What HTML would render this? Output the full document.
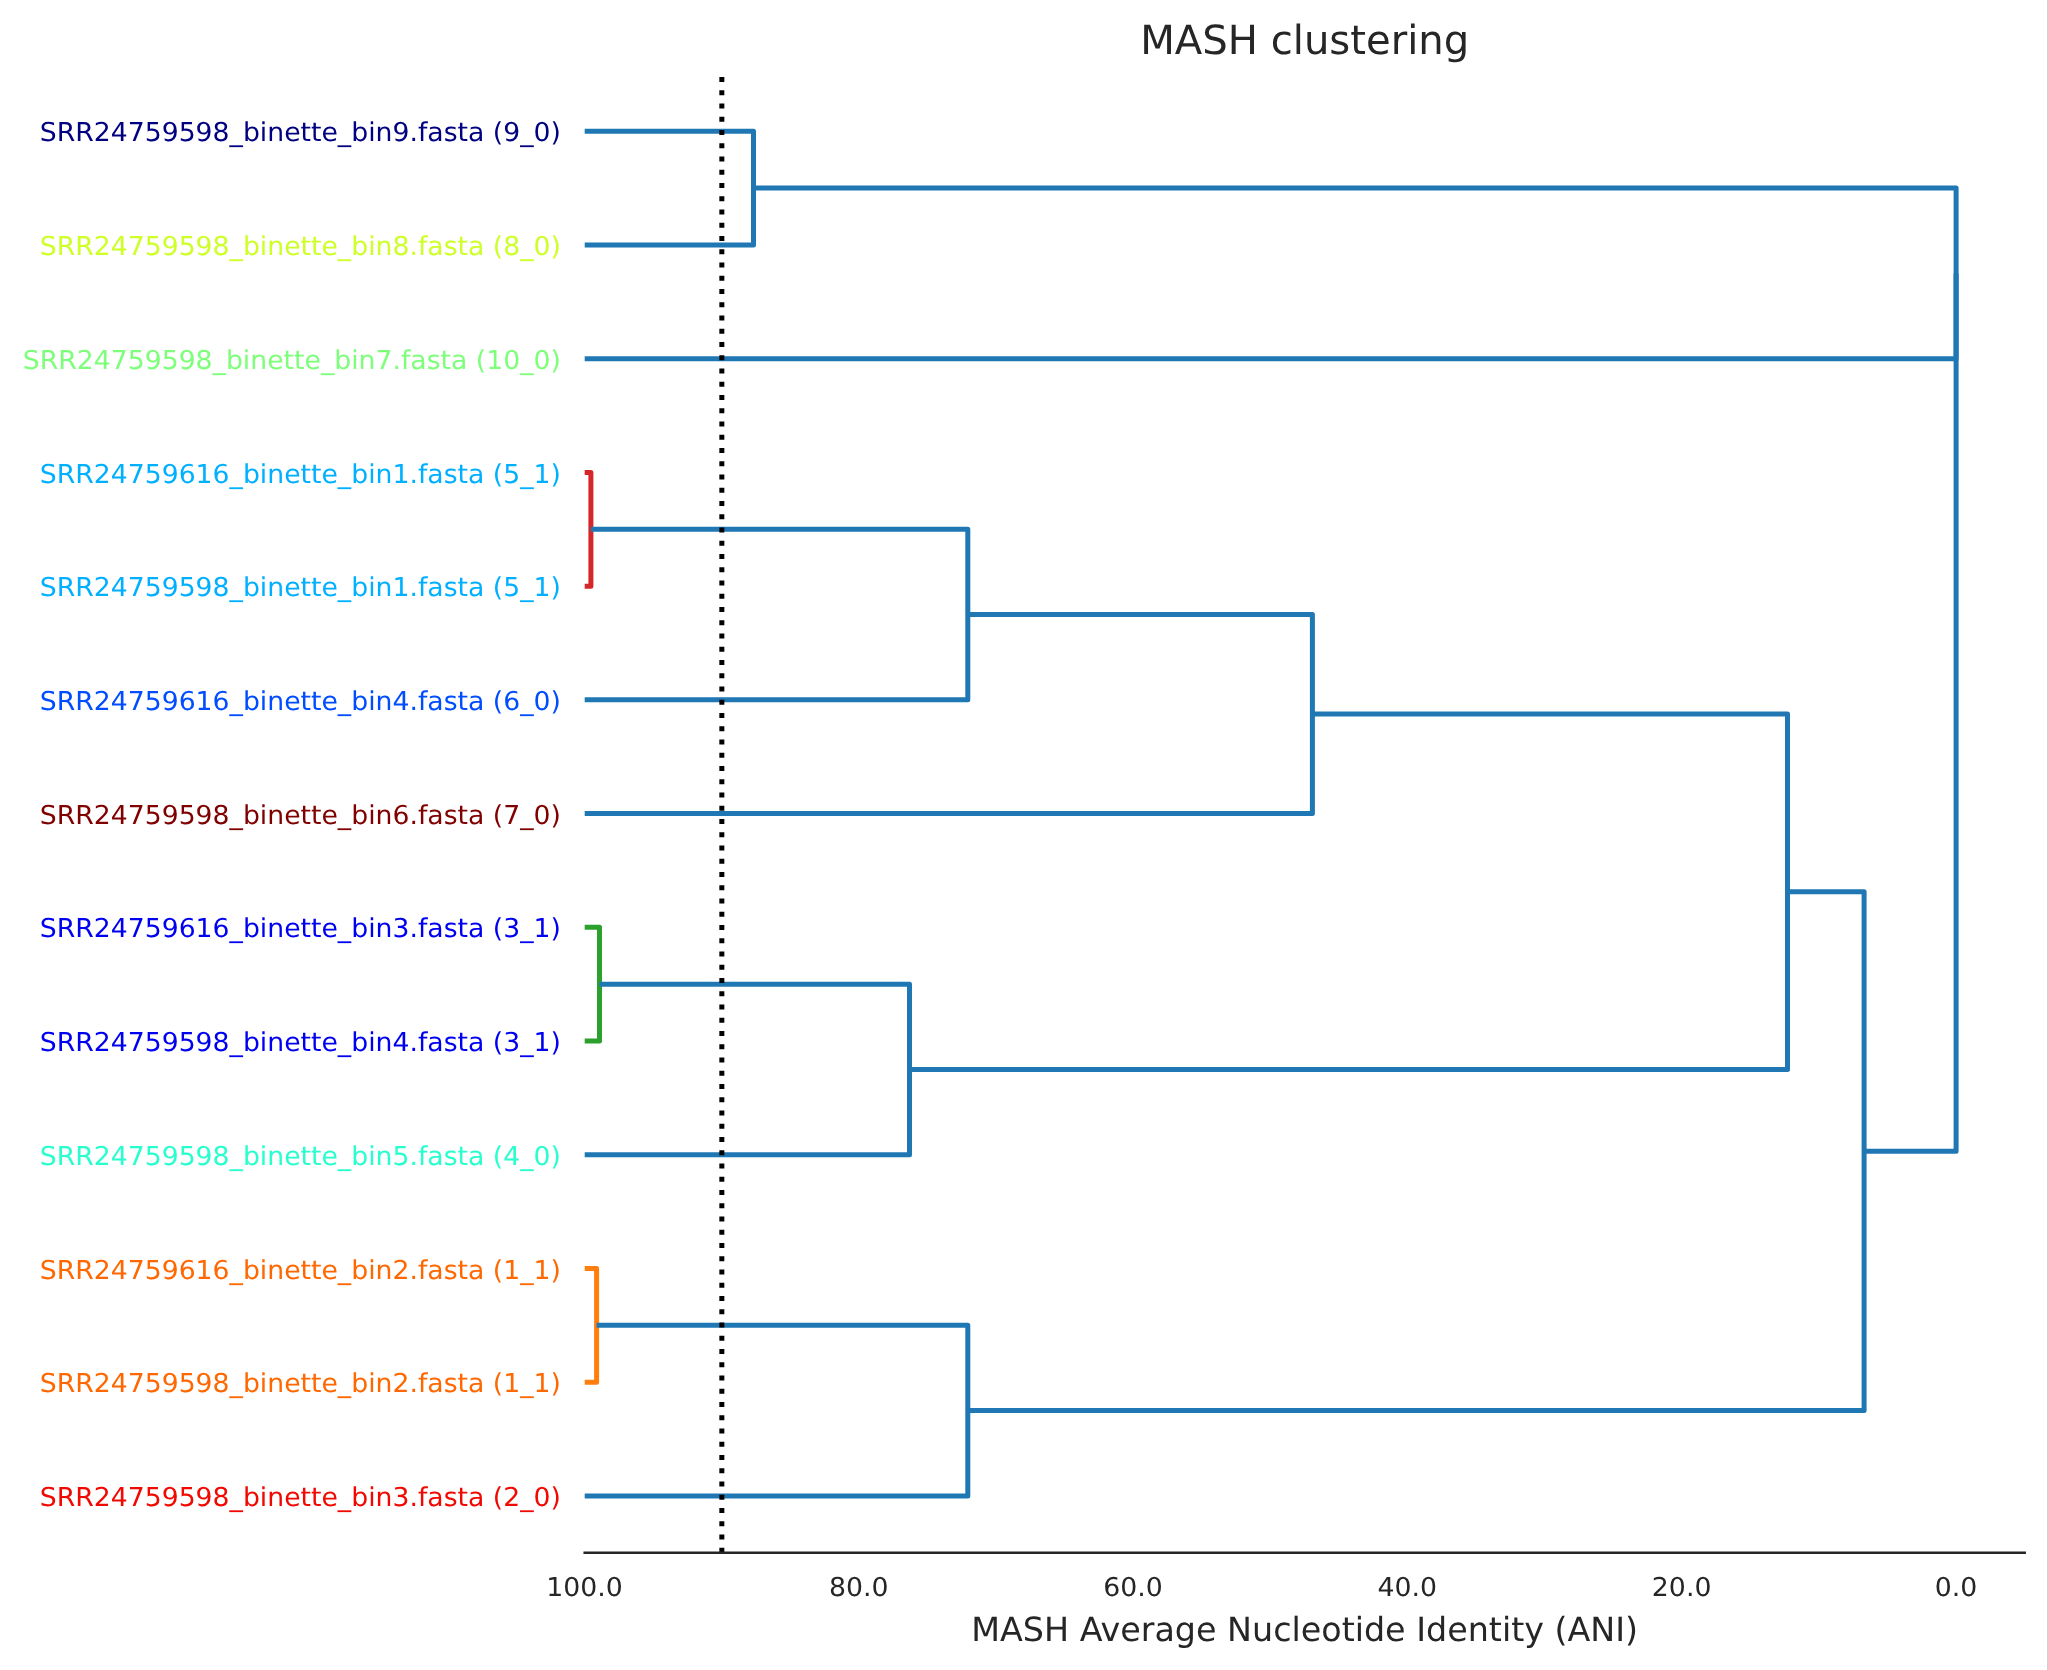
<!DOCTYPE html>
<html><head><meta charset="utf-8"><title>MASH clustering</title>
<style>
html,body{margin:0;padding:0;background:#ffffff;width:2048px;height:1670px;overflow:hidden}
svg{display:block;will-change:transform}
text{text-rendering:geometricPrecision;font-family:"DejaVu Sans","Liberation Sans",sans-serif}
</style></head><body>
<svg width="2048" height="1670" viewBox="0 0 2048 1670">
<rect x="0" y="0" width="2048" height="1670" fill="#ffffff"/>

<g fill="none" stroke-width="5" stroke-linejoin="round" stroke-linecap="butt">
<path stroke="#d62728" d="M584.7 472.41H590.9V586.13H584.7"/>
<path stroke="#2ca02c" d="M584.7 927.29H599.5V1041.01H584.7"/>
<path stroke="#ff7f0e" d="M584.7 1268.45H596.6V1382.17H584.7"/>
<path stroke="#1f77b4" d="M584.7 131.25H753.5V244.97H584.7"/>
<path stroke="#1f77b4" d="M753.5 188.11H1956.1V358.69H584.7"/>
<path stroke="#1f77b4" d="M590.9 529.27H967.8V699.85H584.7"/>
<path stroke="#1f77b4" d="M967.8 614.56H1312.4V813.57H584.7"/>
<path stroke="#1f77b4" d="M599.5 984.15H909.5V1154.73H584.7"/>
<path stroke="#1f77b4" d="M1312.4 714.06H1787.5V1069.44H909.5"/>
<path stroke="#1f77b4" d="M596.6 1325.31H967.8V1495.89H584.7"/>
<path stroke="#1f77b4" d="M1787.5 891.75H1864.1V1410.6H967.8"/>
<path stroke="#1f77b4" d="M1956.1 273.4H1956.1V1151.18H1864.1"/>
</g>
<line x1="721.84" y1="1552.75" x2="721.84" y2="74.4" stroke="#000" stroke-width="5" stroke-dasharray="5 8.25" stroke-linecap="butt"/>
<line x1="584.7" y1="1552.75" x2="2024.7" y2="1552.75" stroke="#262626" stroke-width="2.5" stroke-linecap="square"/>
<g font-size="26.68" text-anchor="end">
<text transform="translate(560.9 141.35) scale(1 0.975)" fill="#000080">SRR24759598_binette_bin9.fasta (9_0)</text>
<text transform="translate(560.9 255.07) scale(1 0.975)" fill="#ceff29">SRR24759598_binette_bin8.fasta (8_0)</text>
<text transform="translate(560.9 368.79) scale(1 0.975)" fill="#7dff7a">SRR24759598_binette_bin7.fasta (10_0)</text>
<text transform="translate(560.9 482.51) scale(1 0.975)" fill="#00b0ff">SRR24759616_binette_bin1.fasta (5_1)</text>
<text transform="translate(560.9 596.23) scale(1 0.975)" fill="#00b0ff">SRR24759598_binette_bin1.fasta (5_1)</text>
<text transform="translate(560.9 709.95) scale(1 0.975)" fill="#004cff">SRR24759616_binette_bin4.fasta (6_0)</text>
<text transform="translate(560.9 823.67) scale(1 0.975)" fill="#800000">SRR24759598_binette_bin6.fasta (7_0)</text>
<text transform="translate(560.9 937.39) scale(1 0.975)" fill="#0000f1">SRR24759616_binette_bin3.fasta (3_1)</text>
<text transform="translate(560.9 1051.11) scale(1 0.975)" fill="#0000f1">SRR24759598_binette_bin4.fasta (3_1)</text>
<text transform="translate(560.9 1164.83) scale(1 0.975)" fill="#29ffce">SRR24759598_binette_bin5.fasta (4_0)</text>
<text transform="translate(560.9 1278.55) scale(1 0.975)" fill="#ff6800">SRR24759616_binette_bin2.fasta (1_1)</text>
<text transform="translate(560.9 1392.27) scale(1 0.975)" fill="#ff6800">SRR24759598_binette_bin2.fasta (1_1)</text>
<text transform="translate(560.9 1505.99) scale(1 0.975)" fill="#f10800">SRR24759598_binette_bin3.fasta (2_0)</text>
</g>
<g font-size="26.75" text-anchor="middle" fill="#262626">
<text transform="translate(584.5 1596.4) scale(1 0.97)">100.0</text>
<text transform="translate(858.78 1596.4) scale(1 0.97)">80.0</text>
<text transform="translate(1133.06 1596.4) scale(1 0.97)">60.0</text>
<text transform="translate(1407.34 1596.4) scale(1 0.97)">40.0</text>
<text transform="translate(1681.62 1596.4) scale(1 0.97)">20.0</text>
<text transform="translate(1955.9 1596.4) scale(1 0.97)">0.0</text>
</g>
<text x="1304.7" y="1640.7" font-size="33.33" text-anchor="middle" fill="#262626">MASH Average Nucleotide Identity (ANI)</text>
<text x="1304.7" y="54.1" font-size="40.15" text-anchor="middle" fill="#262626">MASH clustering</text>
<rect x="2047" y="0" width="1" height="1670" fill="#d0d0d4"/>
</svg>
</body></html>
